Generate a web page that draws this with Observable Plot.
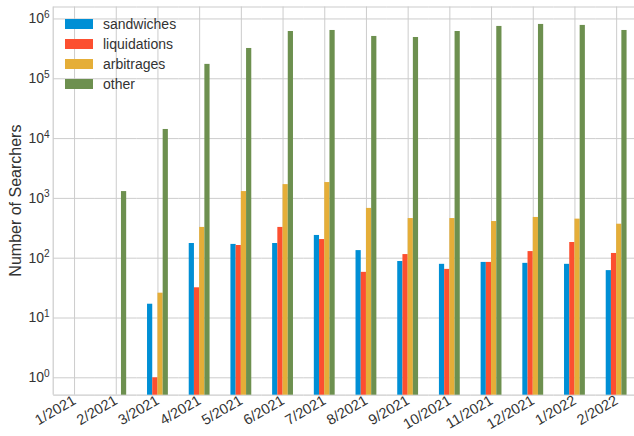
<!DOCTYPE html>
<html>
<head>
<meta charset="utf-8">
<script src="https://cdn.jsdelivr.net/npm/d3@7"></script>
<script src="https://cdn.jsdelivr.net/npm/@observablehq/plot@0.6"></script>
<style>
  html, body { margin: 0; padding: 0; overflow: hidden; background: white; }
  #wrap { position: relative; width: 634px; height: 436px; overflow: hidden; }
  #chart svg { max-width: none !important; }
  #legend { position: absolute; left: 65px; top: 14px; font-family: "Liberation Sans", Arial, sans-serif; font-size: 14px; color: #333; }
  #legend .row { display: flex; align-items: center; height: 19.9px; }
  #legend .sw { width: 28px; height: 10px; margin-right: 10px; }
</style>
</head>
<body>
<div id="wrap"><div id="chart"></div><div id="legend"></div></div>
<script>
const months = ["1/2021","2/2021","3/2021","4/2021","5/2021","6/2021","7/2021","8/2021","9/2021","10/2021","11/2021","12/2021","1/2022","2/2022"];
const series = ["sandwiches","liquidations","arbitrages","other"];
const sandwiches   = [0, 0, 17, 176, 170, 176, 240, 134, 88, 79, 85, 82, 79, 62];
const liquidations = [0, 0, 1, 32, 163, 327, 205, 58, 115, 65, 85, 129, 183, 120];
const arbitrages   = [0, 0, 26, 327, 1300, 1700, 1840, 680, 460, 460, 410, 480, 450, 370];
const other        = [0, 1300, 14200, 174000, 321000, 617000, 642000, 510000, 490000, 617000, 750000, 810000, 780000, 642000];
const yTicks = [1, 10, 100, 1000, 10000, 100000, 1000000];
const colors = ["#008fd5", "#fc4f30", "#e5ae38", "#6d904f"];

const valuesBySeries = {sandwiches, liquidations, arbitrages, other};
const rows = [];
months.forEach((m, i) => {
  series.forEach(s => {
    rows.push({month: m, series: s, value: valuesBySeries[s][i]});
  });
});

const yMin = 0.512, yMax = 1.585e6;
const grid = "#cccccc";

const chart = Plot.plot({
  width: 637,
  height: 436,
  marginLeft: 53.2,
  marginRight: 0,
  marginTop: 6.5,
  marginBottom: 41.3,
  style: {fontFamily: "'Liberation Sans', Arial, sans-serif", fontSize: "13.5px", color: "#333", background: "white", overflow: "visible", maxWidth: "none"},
  fx: {domain: months, padding: 0, paddingInner: 0, paddingOuter: 0, round: false, label: null},
  x: {domain: series, paddingInner: 0, paddingOuter: 2, round: false, axis: null},
  y: {type: "log", domain: [yMin, yMax], axis: null},
  color: {domain: series, range: colors},
  marks: [
    Plot.gridFx({stroke: grid, strokeOpacity: 1, strokeWidth: 1}),
    Plot.gridY(yTicks, {stroke: grid, strokeOpacity: 1, strokeWidth: 1}),
    Plot.ruleY([yMin, yMax], {stroke: grid, strokeWidth: 1.2}),
    Plot.barY(rows, {fx: "month", x: "series", y1: yMin, y2: d => d.value > 0 ? d.value : NaN, fill: "series"}),
    Plot.axisY(yTicks, {anchor: "left", tickSize: 0, tickPadding: 4, tickFormat: d => "10^" + Math.round(Math.log10(d)), label: null, fontSize: 14}),
    Plot.axisFx({anchor: "bottom", tickSize: 0, tickPadding: 4, tickRotate: -30, label: null, fontSize: 14.5})
  ]
});
document.getElementById("chart").appendChild(chart);

const svg = d3.select(chart);
// left spine
svg.append("line")
  .attr("x1", 53.2).attr("x2", 53.2).attr("y1", 6.5).attr("y2", 436 - 41.3)
  .attr("stroke", grid).attr("stroke-width", 1.2);
// y axis title
svg.append("text")
  .attr("transform", `translate(21,${(6.5 + 394.7) / 2}) rotate(-90)`)
  .attr("text-anchor", "middle")
  .attr("fill", "#333")
  .attr("font-size", 16)
  .text("Number of Searchers");

// superscript exponents on y tick labels
svg.selectAll('g[aria-label="y-axis tick label"] text').each(function() {
  const t = d3.select(this);
  const s = t.text();
  if (s.startsWith("10^")) {
    const exp = s.slice(3);
    t.text(null);
    t.append("tspan").text("10");
    t.append("tspan").attr("dy", "-0.55em").attr("font-size", "0.72em").text(exp);
  }
});

// legend
const lg = d3.select("#legend");
series.forEach((s, i) => {
  const r = lg.append("div").attr("class", "row");
  r.append("div").attr("class", "sw").style("background", colors[i]);
  r.append("span").text(s);
});
</script>
</body>
</html>
